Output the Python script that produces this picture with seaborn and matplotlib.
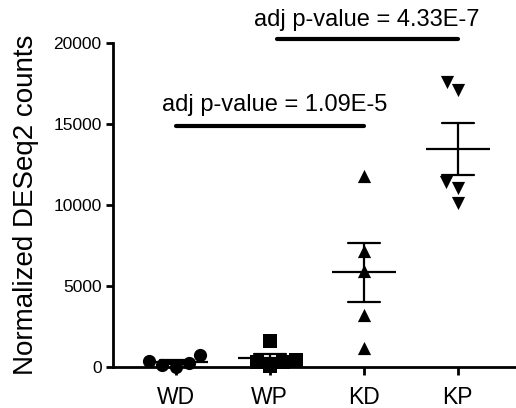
import matplotlib
matplotlib.use("Agg")
import matplotlib.pyplot as plt
import seaborn as sns
import pandas as pd

categories = ["WD", "WP", "KD", "KP"]
wd_values = [105, 722, 210, 370, 10]
wp_values = [40, 1600, 410, 300, 320]
kd_values = [11750, 7117, 5883, 3210, 1154]
kp_values = [17080, 17590, 11010, 11420, 10090]
markers = ["o", "s", "^", "v"]
yticks = [0, 5000, 10000, 15000, 20000]
ylabel = "Normalized DESeq2 counts"
annot1 = "adj p-value = 1.09E-5"
annot2 = "adj p-value = 4.33E-7"

sns.set_style("ticks")
plt.rcParams["font.family"] = ["Liberation Sans", "DejaVu Sans"]
plt.rcParams["text.color"] = "black"

rows = []
for cat, vals in zip(categories, [wd_values, wp_values, kd_values, kp_values]):
    for v in vals:
        rows.append({"group": cat, "count": v})
df = pd.DataFrame(rows)

fig = plt.figure(figsize=(5.16, 4.08), dpi=100)
ax = fig.add_axes([0.2184, 0.1012, 0.7816, 0.7941])

for cat, m in zip(categories, markers):
    sub = df[df["group"] == cat]
    sns.swarmplot(data=sub, x="group", y="count", order=categories, marker=m,
                  color="black", size=9.5, linewidth=0, ax=ax, clip_on=False, zorder=3)

sns.pointplot(data=df, x="group", y="count", order=categories, errorbar="se",
              linestyle="none", markers="_", markersize=46, markeredgewidth=1.6,
              capsize=0.34, color="black", err_kws={"linewidth": 1.6}, ax=ax, zorder=4)

ax.set_xlim(-0.67, 3.62)
ax.set_ylim(0, 20000)
ax.set_yticks(yticks)
ax.set_yticklabels([str(t) for t in yticks], fontsize=12.5)
ax.tick_params(axis="x", labelsize=16.5, width=2, length=6, pad=8, color="black",
               labelcolor="black")
ax.tick_params(axis="y", width=2, length=5, pad=3, color="black", labelcolor="black")
ax.set_xlabel("")
ax.set_ylabel(ylabel, fontsize=20, labelpad=10, color="black")
for s in ["left", "bottom"]:
    ax.spines[s].set_linewidth(2)
    ax.spines[s].set_color("black")
sns.despine(ax=ax)

ax.plot([0, 2], [14860, 14860], color="black", linewidth=3, clip_on=False)
ax.text(1.05, 16150, annot1, ha="center", va="center", fontsize=17, color="black",
        clip_on=False)
ax.plot([1.08, 3.0], [20210, 20210], color="black", linewidth=3, clip_on=False)
ax.text(2.03, 21400, annot2, ha="center", va="center", fontsize=17, color="black",
        clip_on=False)

fig.savefig("out.png", dpi=100)
